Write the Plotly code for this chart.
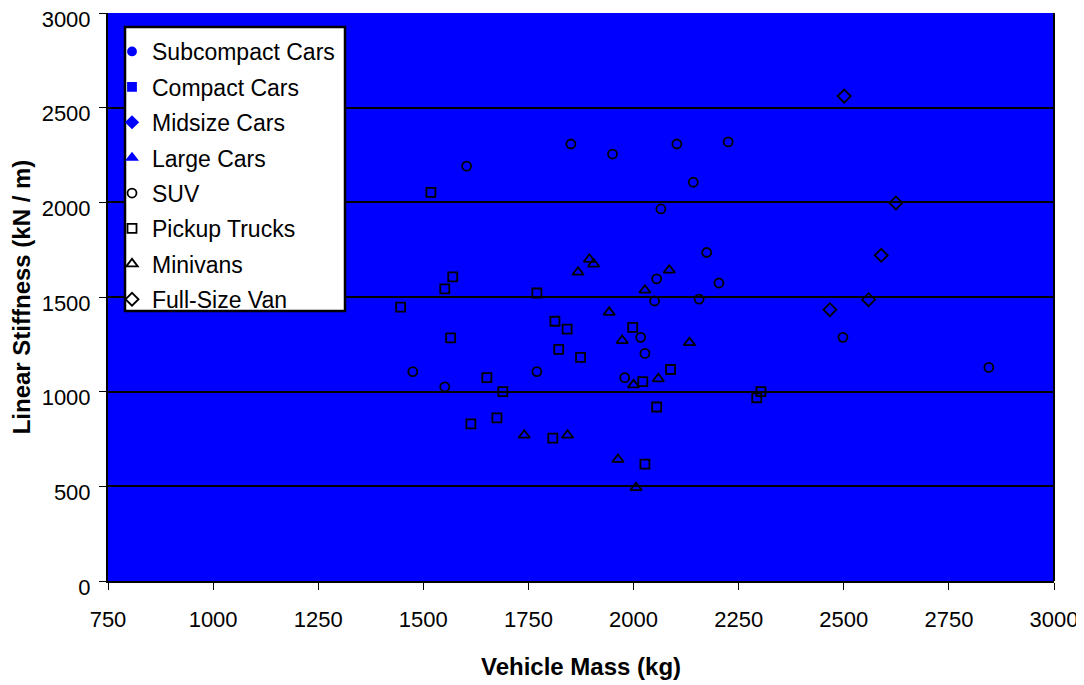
import plotly.graph_objects as go

# ---- data ----
suv_mass = [1475, 1551, 1603, 1770, 1851, 1950, 1979, 2017, 2027, 2050,
            2055, 2065, 2103, 2142, 2156, 2174, 2203, 2225, 2498, 2845]
suv_stiff = [1106, 1025, 2191, 1106, 2308, 2255, 1074, 1287, 1202, 1479,
             1596, 1965, 2308, 2106, 1489, 1735, 1574, 2319, 1287, 1128]

pickup_mass = [1446, 1518, 1551, 1565, 1570, 1613, 1651, 1675, 1689, 1770,
               1808, 1813, 1822, 1842, 1874, 1998, 2022, 2027, 2055, 2088,
               2293, 2303]
pickup_stiff = [1447, 2053, 1543, 1284, 1606, 830, 1074, 862, 1000, 1521,
                755, 1372, 1223, 1330, 1181, 1340, 1053, 617, 919, 1117,
                968, 1000]

minivan_mass = [1740, 1843, 1868, 1895, 1905, 1942, 1963, 1973, 2000, 2006,
                2027, 2059, 2085, 2133]
minivan_stiff = [770, 770, 1631, 1699, 1674, 1419, 642, 1270, 1036, 493,
                 1536, 1068, 1642, 1259]

van_mass = [2467, 2501, 2559, 2589, 2624]
van_stiff = [1433, 2561, 1486, 1720, 1997]

no_data = [None]

x_ticks = [750, 1000, 1250, 1500, 1750, 2000, 2250, 2500, 2750, 3000]
y_ticks = [0, 500, 1000, 1500, 2000, 2500, 3000]

FONT = "Liberation Sans, Arial, sans-serif"

series = [
    ("Subcompact Cars", no_data, no_data, "circle", "#0000FF", 8),
    ("Compact Cars", no_data, no_data, "square", "#0000FF", 8),
    ("Midsize Cars", no_data, no_data, "diamond", "#0000FF", 9),
    ("Large Cars", no_data, no_data, "triangle-up", "#0000FF", 9),
    ("SUV", suv_mass, suv_stiff, "circle-open", "#000000", 9),
    ("Pickup Trucks", pickup_mass, pickup_stiff, "square-open", "#000000", 9),
    ("Minivans", minivan_mass, minivan_stiff, "triangle-up-open", "#000000", 10),
    ("Full-Size Van", van_mass, van_stiff, "diamond-open", "#000000", 10),
]

fig = go.Figure()
for i, (name, xs, ys, sym, col, sz) in enumerate(series):
    fig.add_trace(go.Scatter(
        x=xs, y=ys, mode="markers", name=name, legendgroup=f"g{i}",
        marker=dict(symbol=sym, size=sz, color=col,
                    line=dict(width=1.8, color=col)),
    ))

# plot area in the figure: x 100..1046, y 5..573 (page offset 8 px)
PW, PH = 946, 568
def px_x(p):  # page pixel -> paper x
    return (p - 8 - 100) / PW
def px_y(p):  # page pixel -> paper y
    return 1 - (p - 8 - 5) / PH

fig.update_layout(
    width=1084, height=685,
    margin=dict(l=100, r=38, t=5, b=112, autoexpand=False),
    paper_bgcolor="white",
    plot_bgcolor="#0000FF",
    font=dict(family=FONT, size=20, color="black"),
    showlegend=True,
    legend=dict(
        x=px_x(112), y=px_y(30), xanchor="left", yanchor="top",
        bgcolor="rgba(0,0,0,0)", borderwidth=0,
        font=dict(family=FONT, size=23, color="black"),
        traceorder="grouped", tracegroupgap=2.5,
        itemwidth=30,
    ),
    xaxis=dict(
        range=[750, 3000], tickvals=x_ticks, ticktext=[str(v) for v in x_ticks],
        showgrid=False, zeroline=False, automargin=False,
        showline=True, linecolor="black", linewidth=2,
        ticks="outside", ticklen=7, tickcolor="black", tickwidth=1,
        tickfont=dict(family=FONT, size=22),
        ticklabelstandoff=11, ticklabeloverflow="allow",
        title=dict(text="<b>Vehicle Mass (kg)</b>", font=dict(family=FONT, size=24),
                   standoff=27),
    ),
    yaxis=dict(
        range=[0, 3000], tickvals=y_ticks, ticktext=[str(v) for v in y_ticks],
        showgrid=True, gridcolor="black", gridwidth=2, zeroline=False, automargin=False,
        showline=True, linecolor="black", linewidth=2,
        ticks="outside", ticklen=7, tickcolor="black", tickwidth=1,
        tickfont=dict(family=FONT, size=22),
        ticklabelstandoff=4, ticklabelshift=6, ticklabeloverflow="allow",
        title=dict(text="<b>Linear Stiffness (kN / m)</b>", font=dict(family=FONT, size=24),
                   standoff=6),
    ),
)

# right border of the plot area
fig.add_shape(type="line", xref="paper", yref="paper", x0=1, x1=1, y0=0, y1=1,
              line=dict(color="black", width=2))
# legend box
fig.add_shape(type="rect", xref="paper", yref="paper",
              x0=px_x(125), x1=px_x(345), y0=px_y(311), y1=px_y(27),
              fillcolor="white", line=dict(color="black", width=2.5), layer="above")

fig.write_html("out.html")
